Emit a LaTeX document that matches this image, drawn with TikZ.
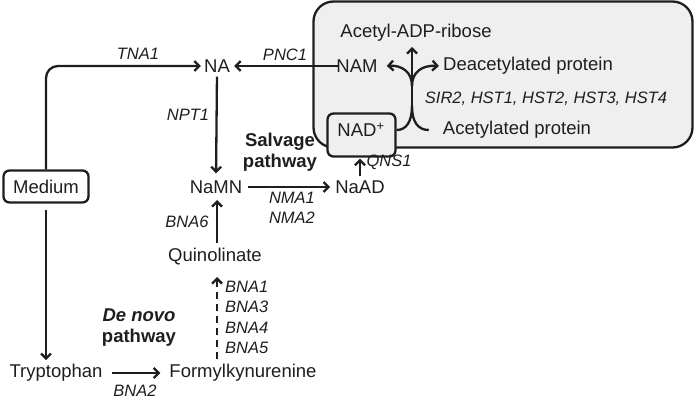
\documentclass[tikz,border=0pt]{standalone}
\usepackage{fontspec}
\setmainfont{Liberation Sans}
\usetikzlibrary{arrows.meta}
\definecolor{ink}{HTML}{1E1E1E}
\definecolor{cellfill}{HTML}{EFEFEF}
\begin{document}
\begin{tikzpicture}[x=1pt,y=-1pt,
  txt/.style={font=\fontsize{18.5}{20}\selectfont, text=ink, inner sep=1pt},
  lab/.style={font=\fontsize{16.5}{20.5}\selectfont\itshape, text=ink, inner sep=1pt, align=left},
  bld/.style={font=\fontsize{18.5}{20.5}\selectfont\bfseries, text=ink, align=center, inner sep=1pt},
  arr/.style={draw=ink, line width=2.3pt, -{Straight Barb[length=5pt,width=10pt]}},
  plain/.style={draw=ink, line width=2.3pt},
  bigbox/.style={draw=ink, line width=2.3pt, fill=cellfill, rounded corners=20pt, minimum width=379pt, minimum height=146pt, inner sep=0pt},
  smallbox/.style={draw=ink, line width=2.3pt, fill=cellfill, rounded corners=6pt, minimum width=68pt, minimum height=43pt, inner sep=0pt},
  medbox/.style={draw=ink, line width=2.3pt, fill=white, rounded corners=6pt, minimum width=85pt, minimum height=32pt, inner sep=0pt, font=\fontsize{18.5}{20}\selectfont, text=ink},
]
\useasboundingbox (0,0) rectangle (694,401);

% cell box
\node[bigbox] (cell) at (503,74.5) {};

% main nodes
\node[txt] (NA) at (217,66) {NA};
\node[txt] (NAM) at (357,66) {NAM};
\node[txt] (ADPR) at (416,33) {Acetyl-ADP-ribose};
\node[txt] (Deac) at (528,66) {Deacetylated protein};
\node[txt] (Acet) at (517,130) {Acetylated protein};
\node[smallbox] (NADbox) at (361.5,135) {};
\node[txt] (NAD) at (361,130) {NAD\textsuperscript{+}};
\node[txt] (NaMN) at (216,187) {NaMN};
\node[txt] (NaAD) at (360,187) {NaAD};
\node[txt] (Quin) at (215,257) {Quinolinate};
\node[txt] (Tryp) at (56,373) {Tryptophan};
\node[txt] (Formyl) at (243,373) {Formylkynurenine};
\node[medbox] (Medium) at (46,186.5) {Medium};

% labels
\node[lab] (lTNA) at (138,54) {TNA1};
\node[lab] (lPNC) at (285,55) {PNC1};
\node[lab] (lNPT) at (188,115) {NPT1};
\node[bld] (lSalv) at (280,152) {Salvage\\pathway};
\node[lab] (lQNS) at (389,162) {QNS1};
\node[lab, align=center] (lNMA) at (292,208) {NMA1\\NMA2};
\node[lab] (lBNA6) at (187,222) {BNA6};
\node[lab, anchor=west] (lBNA) at (224,317.5) {BNA1\\BNA3\\BNA4\\BNA5};
\node[bld] (lDeNovo) at (139,327.5) {\textit{De novo}\\pathway};
\node[lab] (lBNA2) at (135,391) {BNA2};
\node[lab] (lSIR) at (546,99) {SIR2, HST1, HST2, HST3, HST4};

% connector end points on the pathway axis
\coordinate (qs) at (217,277);
\coordinate (fn) at (217,359);
\coordinate (qn) at (217,243);
\coordinate (ms) at (217,200);

% connectors
\draw[arr, rounded corners=12pt, shorten >=2pt] (Medium.north) |- (NA.west);
\draw[arr, shorten <=-3pt, shorten >=3pt] (NAM.west) -- (NA.east);
\draw[arr, shorten <=3pt, shorten >=6pt] (NA.south) -- (NaMN.north);
\draw[arr, shorten <=6pt, shorten >=3pt] (Medium.south) -- (Medium.south |- Tryp.north);
\draw[arr, shorten <=8pt, shorten >=8pt] (Tryp.east) -- (Formyl.west);
\draw[arr, dash pattern=on 7pt off 5pt] (fn) -- (qs);
\draw[arr] (qn) -- (ms);
\draw[arr, shorten <=5pt, shorten >=4pt] (NaMN.east) -- (NaAD.west);
\draw[arr, shorten <=3pt, shorten >=1pt] (NaAD.north) -- (NADbox.south -| NaAD.north);

% sirtuin reaction
\coordinate (m) at (412,106);
\coordinate (b) at (412,86);
\coordinate (top) at (412,47);
\draw[plain] (NADbox.east |- NAD) .. controls (406,130) and (412,122) .. (m);
\draw[plain] ([xshift=-13pt]Acet.west) .. controls (418,130) and (412,122) .. (m);
\draw[arr] (m) -- (top);
\draw[arr] (b) .. controls (412,72) and (402,65) .. ([xshift=8pt]NAM.east);
\draw[arr] (b) .. controls (412,72) and (422,65) .. ([xshift=-3pt]Deac.west);
\end{tikzpicture}
\end{document}
